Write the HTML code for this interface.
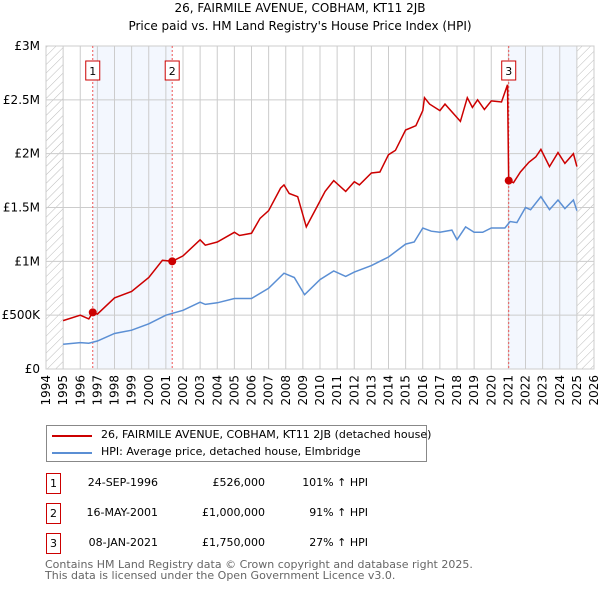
<!DOCTYPE html>
<html><head><meta charset="utf-8"><style>
body{margin:0;background:#fff;font-family:"DejaVu Sans","Liberation Sans",sans-serif;}
#wrap{position:relative;width:600px;height:590px;overflow:hidden;}
.t{position:absolute;font-size:12px;color:#000;white-space:nowrap;}
.box{position:absolute;border:1px solid #c00;width:13px;height:19px;text-align:center;line-height:19px;font-size:11px;}
svg text{font-family:"DejaVu Sans","Liberation Sans",sans-serif;}
</style></head><body><div id="wrap">
<div class="t" style="left:0;width:600px;text-align:center;top:1px;font-size:12px">26, FAIRMILE AVENUE, COBHAM, KT11 2JB</div>
<div class="t" style="left:0;width:600px;text-align:center;top:19px;font-size:12px">Price paid vs. HM Land Registry's House Price Index (HPI)</div>
<svg id="svg" width="600" height="420" style="position:absolute;left:0;top:0"></svg>
<div style="position:absolute;left:46px;top:425px;width:379px;height:35px;border:1px solid #888;">
<div style="position:absolute;left:5px;top:9px;width:40px;height:2px;background:#c00"></div>
<div class="t" style="left:54px;top:2px;font-size:11px">26, FAIRMILE AVENUE, COBHAM, KT11 2JB (detached house)</div>
<div style="position:absolute;left:5px;top:26px;width:40px;height:2px;background:#5b8fd4"></div>
<div class="t" style="left:54px;top:19px;font-size:11px">HPI: Average price, detached house, Elmbridge</div>
</div>
<div id="tbl"></div>
<div class="t" style="left:45px;top:559px;font-size:11px;color:#666;line-height:11px">Contains HM Land Registry data © Crown copyright and database right 2025.<br>This data is licensed under the Open Government Licence v3.0.</div>
</div>
<script>
const yTicks=[0,0.5,1,1.5,2,2.5,3];
const yTickLabels=["£0","£500K","£1M","£1.5M","£2M","£2.5M","£3M"];
const years=[1994,1995,1996,1997,1998,1999,2000,2001,2002,2003,2004,2005,2006,2007,2008,2009,2010,2011,2012,2013,2014,2015,2016,2017,2018,2019,2020,2021,2022,2023,2024,2025,2026];
const hpiT=[1995,1996,1996.5,1997,1998,1999,2000,2001,2002,2003,2003.3,2004,2005,2006,2007,2007.9,2008.5,2009.1,2010,2010.8,2011.5,2012,2013,2014,2015,2015.5,2016,2016.5,2017,2017.7,2018,2018.5,2019,2019.5,2020,2020.8,2021.1,2021.5,2022,2022.3,2022.9,2023.4,2023.9,2024.3,2024.8,2025];
const hpiV=[0.23,0.245,0.24,0.26,0.33,0.36,0.42,0.5,0.545,0.62,0.6,0.615,0.655,0.655,0.75,0.89,0.85,0.69,0.83,0.91,0.86,0.9,0.96,1.04,1.16,1.18,1.31,1.28,1.27,1.29,1.2,1.32,1.27,1.27,1.31,1.31,1.37,1.36,1.5,1.48,1.6,1.48,1.57,1.49,1.57,1.47];
const redT=[1995,1996,1996.5,1996.73,1997,1998,1999,2000,2000.8,2001.37,2002,2003,2003.3,2004,2005,2005.3,2006,2006.5,2007,2007.7,2007.9,2008.2,2008.7,2009.2,2009.8,2010.3,2010.8,2011.5,2012,2012.3,2013,2013.5,2014,2014.4,2015,2015.6,2016,2016.1,2016.4,2017,2017.3,2018.2,2018.6,2018.9,2019.2,2019.6,2020,2020.6,2020.95,2021.02,2021.3,2021.7,2022.2,2022.6,2022.9,2023.4,2023.9,2024.3,2024.8,2025];
const redV=[0.45,0.5,0.465,0.526,0.51,0.66,0.72,0.85,1.01,1.0,1.05,1.2,1.15,1.18,1.27,1.24,1.26,1.4,1.47,1.68,1.71,1.63,1.6,1.32,1.5,1.65,1.75,1.65,1.74,1.71,1.82,1.83,1.99,2.03,2.22,2.26,2.4,2.52,2.46,2.4,2.46,2.3,2.52,2.43,2.5,2.41,2.49,2.48,2.64,1.75,1.73,1.83,1.92,1.97,2.04,1.88,2.01,1.91,2.0,1.88];
const saleT=[1996.73,2001.37,2021.02];
const saleV=[0.526,1.0,1.75];
const saleDates=["24-SEP-1996","16-MAY-2001","08-JAN-2021"];
const salePrices=["£526,000","£1,000,000","£1,750,000"];
const saleHpi=["101% ↑ HPI","91% ↑ HPI","27% ↑ HPI"];
const X0=46,X1=594,Y0=369,Y1=46;
const xs=t=>X0+(t-1994)/(2026-1994)*(X1-X0);
const ys=v=>Y0-v/3*(Y0-Y1);
const NS="http://www.w3.org/2000/svg",svg=document.getElementById('svg');
function mk(tag,at,name){const e=document.createElementNS(NS,tag);for(const k in at)e.setAttribute(k,at[k]);


svg.appendChild(e);return e;}
const defs=document.createElementNS(NS,'defs');defs.innerHTML='<pattern id="h" width="6" height="6" patternUnits="userSpaceOnUse" patternTransform="rotate(45)"><line x1="0" y1="0" x2="0" y2="6" stroke="#bbb" stroke-width="1"/></pattern>';svg.appendChild(defs);
mk('rect',{x:xs(1994),y:Y1,width:xs(1995)-xs(1994),height:Y0-Y1,fill:'url(#h)'},'hatch-left');
mk('rect',{x:xs(2025),y:Y1,width:xs(2026)-xs(2025),height:Y0-Y1,fill:'url(#h)'},'hatch-right');
mk('rect',{x:xs(saleT[0]),y:Y1,width:xs(saleT[1])-xs(saleT[0]),height:Y0-Y1,fill:'#eef4fd',opacity:0.7},'shade-1-2');
mk('rect',{x:xs(saleT[2]),y:Y1,width:xs(2025)-xs(saleT[2]),height:Y0-Y1,fill:'#eef4fd',opacity:0.7},'shade-3');
years.forEach(y=>{mk('line',{x1:xs(y),x2:xs(y),y1:Y1,y2:Y0,stroke:'#ccc','stroke-width':1},'x-grid-'+y);
const t=mk('text',{x:0,y:0,'font-size':12,'text-anchor':'end',transform:`translate(${xs(y)+4},375) rotate(-90)`},'x-tick-'+y);t.textContent=y;});
yTicks.forEach((v,i)=>{mk('line',{x1:X0,x2:X1,y1:ys(v),y2:ys(v),stroke:'#ccc','stroke-width':1},'y-grid');
const t=mk('text',{x:40,y:ys(v)+4,'font-size':12,'text-anchor':'end'},'y-tick-label');t.textContent=yTickLabels[i];});
mk('rect',{x:X0,y:Y1,width:X1-X0,height:Y0-Y1,fill:'none',stroke:'#ccc'},'plot-border');
saleT.forEach((t,i)=>{mk('line',{x1:xs(t),x2:xs(t),y1:Y1,y2:Y0,stroke:'#e55','stroke-width':1,'stroke-dasharray':'2,2'},'sale-line-'+(i+1));});
const pl=(T,V)=>T.map((t,i)=>xs(t).toFixed(1)+','+ys(V[i]).toFixed(1)).join(' ');
mk('polyline',{points:pl(hpiT,hpiV),fill:'none',stroke:'#5b8fd4','stroke-width':1.5},'hpi-line');
mk('polyline',{points:pl(redT,redV),fill:'none',stroke:'#c00','stroke-width':1.5},'price-line');
saleT.forEach((t,i)=>{mk('circle',{cx:xs(t),cy:ys(saleV[i]),r:4,fill:'#c00'},'sale-point-'+(i+1));
mk('rect',{x:xs(t)-7,y:61,width:14,height:19,fill:'#fff',stroke:'#c00'},'sale-marker-box-'+(i+1));
const tx=mk('text',{x:xs(t),y:75,'font-size':11,'text-anchor':'middle'},'sale-marker-label-'+(i+1));tx.textContent=i+1;});
const tbl=document.getElementById('tbl');let h='';
saleT.forEach((t,i)=>{const y=473+i*30;
h+=`<div class="box" style="left:46px;top:${y}px">${i+1}</div>
<div class="t" style="left:60px;width:98px;text-align:right;top:${y+3}px;font-size:11px">${saleDates[i]}</div>
<div class="t" style="left:160px;width:105px;text-align:right;top:${y+3}px;font-size:11px">${salePrices[i]}</div>
<div class="t" style="left:268px;width:100px;text-align:right;top:${y+3}px;font-size:11px">${saleHpi[i]}</div>`;});
tbl.innerHTML=h;
</script></body></html>
